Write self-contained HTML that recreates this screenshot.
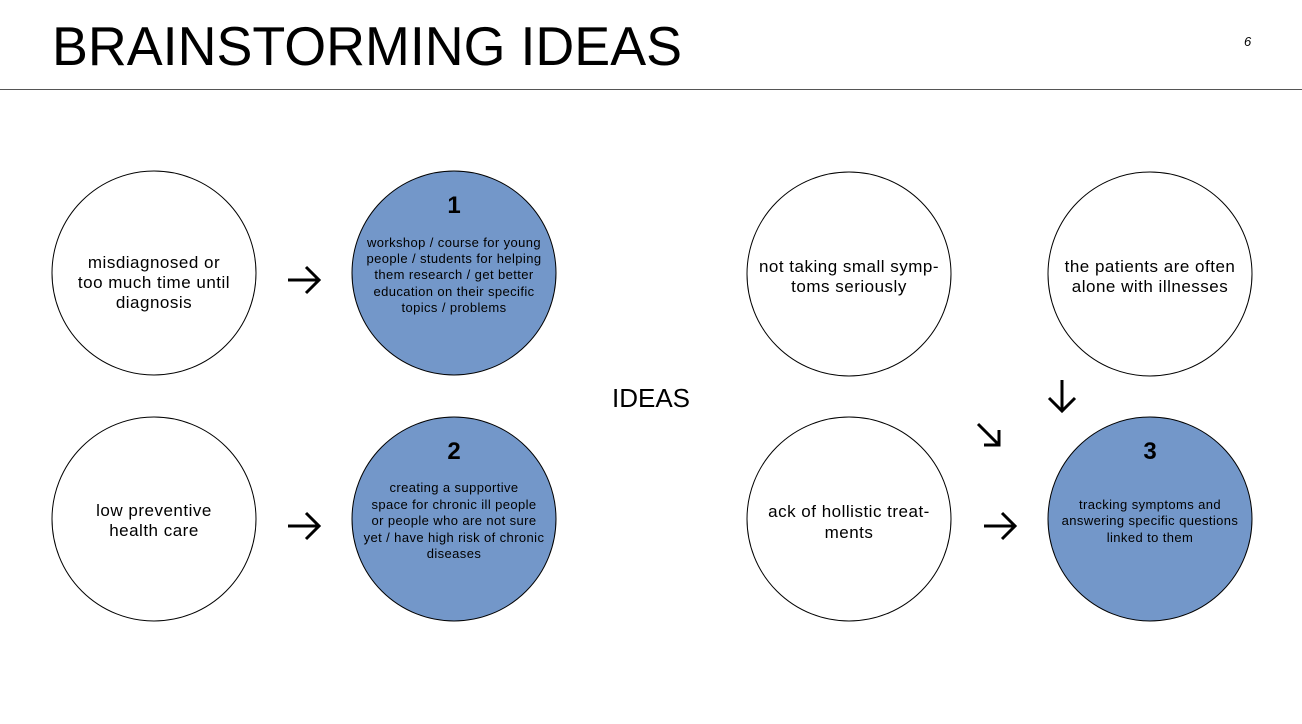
<!DOCTYPE html>
<html><head><meta charset="utf-8"><style>
html,body{margin:0;padding:0;background:#fff;}
svg{display:block;font-family:"Liberation Sans",sans-serif;}
</style></head><body>
<svg width="1302" height="724" viewBox="0 0 1302 724" xmlns="http://www.w3.org/2000/svg">
<text x="52" y="65" font-size="55" textLength="630" lengthAdjust="spacingAndGlyphs" fill="#000">BRAINSTORMING IDEAS</text>
<text x="1244" y="46" font-size="13" font-style="italic" fill="#000">6</text>
<line x1="0" y1="89.5" x2="1302" y2="89.5" stroke="#555" stroke-width="1"/>

<g stroke="#000" stroke-width="1">
<circle cx="154" cy="273" r="102" fill="#fff"/>
<circle cx="454" cy="273" r="102" fill="#7397c9"/>
<circle cx="154" cy="519" r="102" fill="#fff"/>
<circle cx="454" cy="519" r="102" fill="#7397c9"/>
<circle cx="849" cy="274" r="102" fill="#fff"/>
<circle cx="1150" cy="274" r="102" fill="#fff"/>
<circle cx="849" cy="519" r="102" fill="#fff"/>
<circle cx="1150" cy="519" r="102" fill="#7397c9"/>
</g>

<g font-size="17" letter-spacing="0.5" text-anchor="middle" fill="#000">
<text x="154" y="268">misdiagnosed or</text>
<text x="154" y="288">too much time until</text>
<text x="154" y="308">diagnosis</text>
<text x="154" y="516">low preventive</text>
<text x="154" y="536">health care</text>
<text x="849" y="272">not taking small symp-</text>
<text x="849" y="292">toms seriously</text>
<text x="1150" y="272">the patients are often</text>
<text x="1150" y="292">alone with illnesses</text>
<text x="849" y="517">ack of hollistic treat-</text>
<text x="849" y="538">ments</text>
</g>

<g font-size="24" font-weight="bold" text-anchor="middle" fill="#000">
<text x="454" y="213">1</text>
<text x="454" y="459">2</text>
<text x="1150" y="459">3</text>
</g>

<g font-size="13" letter-spacing="0.4" text-anchor="middle" fill="#000">
<text x="454" y="247">workshop / course for young</text>
<text x="454" y="263">people / students for helping</text>
<text x="454" y="279">them research / get better</text>
<text x="454" y="296">education on their specific</text>
<text x="454" y="312">topics / problems</text>
<text x="454" y="492">creating a supportive</text>
<text x="454" y="509">space for chronic ill people</text>
<text x="454" y="525">or people who are not sure</text>
<text x="454" y="542">yet / have high risk of chronic</text>
<text x="454" y="558">diseases</text>
<text x="1150" y="509">tracking symptoms and</text>
<text x="1150" y="525">answering specific questions</text>
<text x="1150" y="542">linked to them</text>
</g>

<text x="651" y="407" font-size="26" text-anchor="middle" fill="#000">IDEAS</text>

<g stroke="#000" stroke-width="3" fill="none" stroke-linecap="butt">
<path d="M288 280 H319 M306 267 L319 280 L306 293"/>
<path d="M288 526 H319 M306 513 L319 526 L306 539"/>
<path d="M984 526 H1015 M1002 513 L1015 526 L1002 539"/>
<path d="M1062 380 V411 M1049 398 L1062 411 L1075 398"/>
<path d="M978 424 L999 445 M999 430 V445 H984"/>
</g>
</svg>
</body></html>
